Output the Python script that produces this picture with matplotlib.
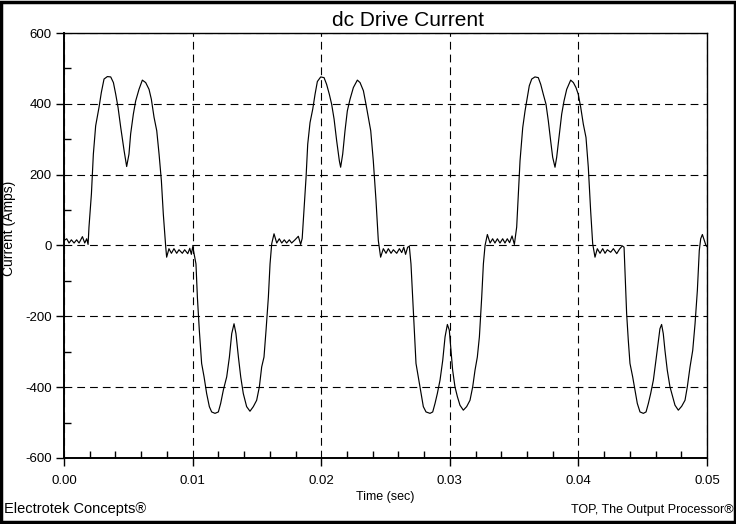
import numpy as np
import matplotlib.pyplot as plt
from matplotlib.patches import Rectangle
from matplotlib.ticker import MultipleLocator

plt.rcParams['font.family'] = ['Liberation Sans', 'DejaVu Sans']

# waveform, time in seconds, current in amps
time_s = [
    0.0, 0.00021, 0.00039, 0.00057, 0.00078, 0.00098, 0.00117, 0.00143, 0.00161, 0.00176, 0.00187,
    0.00194, 0.00213, 0.00228, 0.00246, 0.00272, 0.0029, 0.00311, 0.00337, 0.00363, 0.00384,
    0.00402, 0.0042, 0.00441, 0.00467, 0.00487, 0.00505, 0.00518, 0.00539, 0.00557, 0.00583,
    0.00609, 0.00635, 0.00661, 0.00679, 0.007, 0.00721, 0.00739, 0.00757, 0.00772, 0.00791,
    0.00798, 0.00816, 0.00835, 0.00855, 0.00876, 0.00894, 0.0092, 0.00938, 0.00962, 0.00978,
    0.0099, 0.01001,
    0.01026, 0.01037, 0.01052, 0.0107, 0.01089, 0.01109, 0.0113, 0.01148, 0.01174, 0.012,
    0.01218, 0.01239, 0.01265, 0.01286, 0.01304, 0.01322, 0.01337, 0.01356, 0.01374, 0.01394,
    0.0142, 0.01446, 0.01472, 0.01498, 0.01519, 0.01537, 0.01555, 0.01571, 0.01589, 0.01602,
    0.01615, 0.01633, 0.01654, 0.01674, 0.01693, 0.01713, 0.01731, 0.01752, 0.0177, 0.01796,
    0.01822, 0.0184, 0.01852,
    0.01866, 0.01882, 0.01895, 0.01913, 0.01934, 0.01952, 0.0197, 0.01996, 0.02022, 0.02042,
    0.02063, 0.02081, 0.021, 0.0212, 0.02141, 0.02151, 0.02167, 0.02185, 0.02203, 0.02224,
    0.0225, 0.02281, 0.02302, 0.02328, 0.02348, 0.02366, 0.02385, 0.02405, 0.02426, 0.02444,
    0.02462, 0.02483, 0.02504, 0.02522, 0.02543, 0.02561, 0.02587, 0.02608, 0.02626, 0.02642,
    0.02656, 0.02672, 0.02685,
    0.02698, 0.02711, 0.02724, 0.02737, 0.02755, 0.02773, 0.02794, 0.02815, 0.02846, 0.02867,
    0.02885, 0.02903, 0.02924, 0.02945, 0.02963, 0.02981, 0.02996, 0.03007, 0.03022, 0.0304,
    0.03059, 0.03079, 0.03105, 0.03131, 0.03157, 0.03178, 0.03196, 0.03214, 0.0323, 0.03248,
    0.03261, 0.03274, 0.03292, 0.03313, 0.03333, 0.03351, 0.0337, 0.0339, 0.03411, 0.03429,
    0.03447, 0.03465, 0.03484, 0.03502,
    0.0352, 0.03533, 0.03546, 0.03567, 0.03585, 0.03603, 0.03618, 0.03637, 0.03662, 0.03688,
    0.03707, 0.03727, 0.03748, 0.03766, 0.03784, 0.038, 0.03818, 0.03831, 0.03852, 0.0387,
    0.03888, 0.03909, 0.0394, 0.03961, 0.03981, 0.03999, 0.04018, 0.04038, 0.04059, 0.04077,
    0.04095, 0.04111, 0.04129, 0.04147, 0.04168, 0.04189, 0.04207, 0.04225, 0.04251, 0.04272,
    0.04298, 0.0432, 0.04342, 0.04355,
    0.04365, 0.04375, 0.04388, 0.04401, 0.04422, 0.0444, 0.04458, 0.04479, 0.04505, 0.04526,
    0.04544, 0.04562, 0.04583, 0.04603, 0.04622, 0.04634, 0.04647, 0.0466, 0.04673, 0.04691,
    0.04712, 0.04733, 0.04751, 0.04777, 0.04803, 0.04829, 0.04847, 0.04868, 0.04889, 0.04907,
    0.04925, 0.0494, 0.04951, 0.04964, 0.04979, 0.04992, 0.05,
]
current_a = [
    14, 19, 7, 16, 7, 16, 7, 25, 7, 19, 3,
    52, 146, 258, 338, 390, 432, 470, 477, 476, 460,
    427, 390, 333, 268, 223, 258, 315, 371, 408, 441,
    467, 460, 441, 413, 362, 324, 258, 183, 89, -5,
    -33, -9, -22, -9, -22, -12, -22, -12, -23, -8,
    -25, -3,
    -52, -146, -239, -333, -371, -418, -455, -470, -474, -470,
    -446, -408, -371, -315, -249, -221, -249, -315, -371, -418,
    -455, -468, -455, -437, -399, -343, -315, -239, -146, -52,
    5, 33, 7, 19, 7, 16, 7, 16, 7, 16,
    26, 3, 20,
    99, 192, 286, 347, 385, 427, 463, 476, 474, 455,
    427, 399, 357, 296, 239, 221, 258, 324, 380, 413,
    446, 467, 460, 437, 399, 362, 324, 239, 127, 14,
    -33, -9, -22, -9, -22, -12, -22, -9, -20, -5,
    -25, -5, -2,
    -52, -146, -239, -333, -371, -408, -455, -470, -474, -470,
    -446, -418, -380, -324, -258, -223, -239, -286, -352, -399,
    -427, -451, -465, -455, -437, -399, -352, -315, -258, -146,
    -52, 0, 31, 7, 19, 7, 19, 7, 19, 7,
    19, 8, 27, 3,
    52, 146, 239, 333, 380, 418, 451, 470, 476, 474,
    455, 427, 399, 352, 296, 249, 221, 249, 315, 371,
    408, 441, 467, 460, 446, 427, 390, 343, 305, 221,
    99, 5, -33, -9, -22, -9, -22, -12, -19, -9,
    -23, -10, -1, -5,
    -99, -192, -268, -333, -371, -408, -446, -470, -474, -470,
    -446, -418, -380, -324, -268, -235, -223, -249, -296, -352,
    -399, -427, -451, -465, -454, -437, -399, -343, -296, -221,
    -127, -14, 19, 31, 14, 0, -3,
]

fig = plt.figure(figsize=(7.36, 5.24), dpi=100)
ax = fig.add_axes([0.087, 0.126, 0.8736, 0.811])

ax.plot(time_s, current_a, color='black', lw=0.85)

ax.set_xlim(0, 0.05)
ax.set_ylim(-600, 600)
ax.xaxis.set_major_locator(MultipleLocator(0.01))
ax.xaxis.set_minor_locator(MultipleLocator(0.002))
ax.yaxis.set_major_locator(MultipleLocator(200))
ax.yaxis.set_minor_locator(MultipleLocator(100))
ax.xaxis.set_major_formatter(plt.FormatStrFormatter('%.2f'))
ax.yaxis.set_major_formatter(plt.FormatStrFormatter('%d'))

ax.tick_params(which='major', direction='out', length=6, width=1, labelsize=9.5, pad=3)
ax.tick_params(axis='x', which='major', pad=6)
ax.tick_params(which='minor', direction='in', length=5, width=1)
ax.grid(True, which='major', color='black', lw=0.8, ls=(0, (7, 4.5)))

for s in ax.spines.values():
    s.set_linewidth(1.0)
ax.spines['left'].set_linewidth(1.4)
ax.spines['bottom'].set_linewidth(1.4)

# title sits right of the axes centre in the reference
fig.text(408 / 736, 1 - 20 / 524, 'dc Drive Current', fontsize=15, ha='center', va='center')
ax.set_xlabel('Time (sec)', fontsize=9, labelpad=3)
ax.set_ylabel('Current (Amps)', fontsize=10, labelpad=0)
ax.yaxis.set_label_coords(-0.074, 0.54)

fig.text(0.005, 0.016, 'Electrotek Concepts®', fontsize=10.5, ha='left', va='bottom')
fig.text(0.997, 0.016, 'TOP, The Output Processor®', fontsize=9, ha='right', va='bottom')

fig.patches.append(Rectangle((0.002, 0.003), 0.996, 0.994, transform=fig.transFigure,
                             fill=False, edgecolor='black', lw=2.5))

fig.savefig('out.png', dpi=100)
